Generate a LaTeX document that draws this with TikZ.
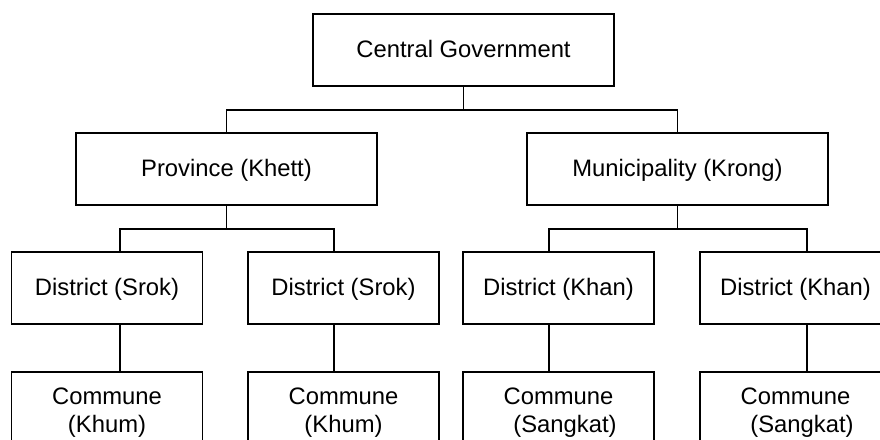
\documentclass[tikz,border=0pt]{standalone}
\usepackage{fontspec}
\setmainfont{Liberation Sans}
\begin{document}
\begin{tikzpicture}[x=1pt,y=-1pt,
  unit/.style={draw=black, line width=1.7pt, fill=white, inner sep=0pt,
    font=\fontsize{23.8}{27.4}\selectfont, text height=17pt, text depth=3pt},
  wide/.style={unit, minimum width=301pt, minimum height=72pt},
  narrow/.style={unit, minimum width=191pt, minimum height=72pt},
  commune/.style={narrow, align=center, text height=50pt, text depth=2pt},
  conn/.style={draw=black, line width=1.4pt}]
\useasboundingbox (0,0) rectangle (880,439);
\clip (0,0) rectangle (880,439);

% tier 1 and 2
\node[wide] (cg)   at (463.5,50)  {Central Government};
\node[wide] (prov) at (226.5,169) {Province (Khett)};
\node[wide] (mun)  at (677.5,169) {Municipality (Krong)};

% tier 3: districts
\node[narrow] (d1) at (107,288)   {District (Srok)};
\node[narrow] (d2) at (343.5,288) {District (Srok)};
\node[narrow] (d3) at (558.5,288) {District (Khan)};
\node[narrow] (d4) at (795.5,288) {District (Khan)};

% tier 4: communes
\node[commune] (c1) at (107,408)   {Commune\\(Khum)};
\node[commune] (c2) at (343.5,408) {Commune\\(Khum)};
\node[commune] (c3) at (558.5,408) {Commune\\\hspace*{13pt}(Sangkat)};
\node[commune] (c4) at (795.5,408) {Commune\\\hspace*{13pt}(Sangkat)};

% drop lines for each district column
\coordinate (s1) at (120,0);
\coordinate (s2) at (334,0);
\coordinate (s3) at (549,0);
\coordinate (s4) at (807,0);

% connectors
\draw[conn] (cg.south) -- ++(0,23) coordinate (b1);
\draw[conn] (prov.north) |- (b1) -| (mun.north);

\draw[conn] (prov.south) -- ++(0,23) coordinate (b2);
\draw[conn] (d1.north -| s1) |- (b2) -| (d2.north -| s2);

\draw[conn] (mun.south) -- ++(0,23) coordinate (b3);
\draw[conn] (d3.north -| s3) |- (b3) -| (d4.north -| s4);

\draw[conn] (d1.south -| s1) -- (c1.north -| s1);
\draw[conn] (d2.south -| s2) -- (c2.north -| s2);
\draw[conn] (d3.south -| s3) -- (c3.north -| s3);
\draw[conn] (d4.south -| s4) -- (c4.north -| s4);
\end{tikzpicture}
\end{document}
